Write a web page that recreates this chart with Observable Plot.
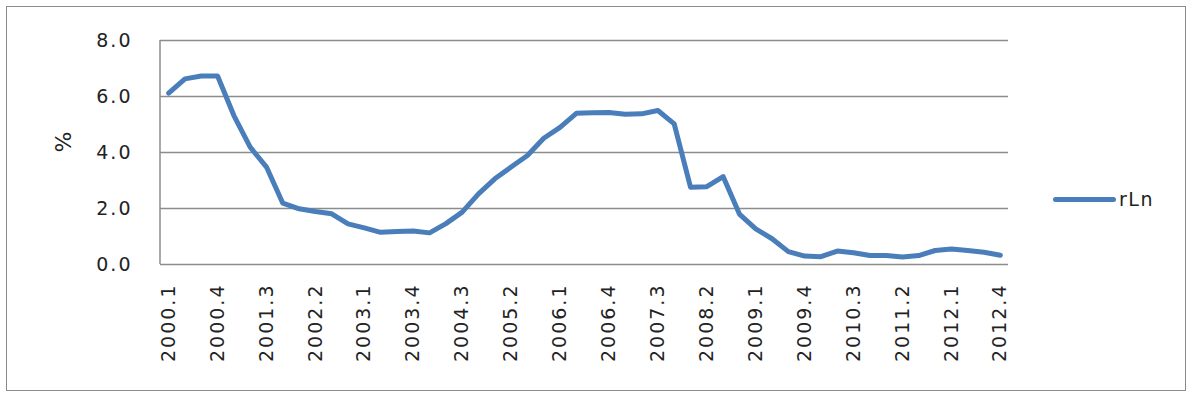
<!DOCTYPE html>
<html><head><meta charset="utf-8">
<script src="https://cdn.jsdelivr.net/npm/d3@7"></script>
<script src="https://cdn.jsdelivr.net/npm/@observablehq/plot@0.6"></script>
<style>
body{margin:0;background:#fff;}
#wrap{position:relative;width:1194px;height:393px;font-family:"DejaVu Sans",sans-serif;}
#border{position:absolute;left:6px;top:6px;width:1178px;height:383px;border:1px solid #8c8c8c;pointer-events:none;}
#legend{position:absolute;left:1053px;top:188px;font-size:19px;letter-spacing:1.5px;color:#222;display:flex;align-items:center;}
#legend .sw{width:63px;height:5px;background:#4a7ebb;border-radius:3px;margin-right:3px;}
svg text{letter-spacing:2px;}
</style></head>
<body><div id="wrap"><div id="chart"></div><div id="border"></div><div id="legend"><span class="sw"></span><span>rLn</span></div></div>
<script>
const years = [2000,2001,2002,2003,2004,2005,2006,2007,2008,2009,2010,2011,2012];
const quarters = [1,2,3,4];
const periods = years.flatMap(y => quarters.map(q => `${y}.${q}`));
const rLn = [
  6.12, 6.63, 6.73, 6.73, 5.32, 4.19, 3.48, 2.19, 1.99, 1.89, 1.81, 1.45, 1.31,
  1.15, 1.18, 1.20, 1.13, 1.46, 1.87, 2.52, 3.06, 3.48, 3.89, 4.51, 4.90, 5.40,
  5.42, 5.43, 5.37, 5.38, 5.50, 5.02, 2.76, 2.78, 3.14, 1.80, 1.27, 0.92, 0.46,
  0.30, 0.28, 0.48, 0.42, 0.32, 0.32, 0.27, 0.32, 0.50, 0.55, 0.50, 0.44, 0.33
];
const yTicks = [0, 2, 4, 6, 8];
const xTickLabels = periods.filter((d, i) => i % 3 === 0);
const data = periods.map((p, i) => ({period: p, value: rLn[i]}));

const chart = Plot.plot({
  width: 1194, height: 393,
  marginLeft: 160, marginRight: 186, marginTop: 40, marginBottom: 129,
  style: {fontFamily: "'DejaVu Sans', sans-serif", fontSize: "19px", color: "#222", background: "transparent"},
  x: {type: "band", domain: periods, padding: 0, round: false},
  y: {domain: [0, 8]},
  marks: [
    Plot.gridY(yTicks, {stroke: "#8c8c8c", strokeOpacity: 1, strokeWidth: 1.5}),
    Plot.axisY(yTicks, {tickSize: 0, tickPadding: 28, tickFormat: d => d.toFixed(1), label: null, fontSize: 19}),
    Plot.axisX(xTickLabels, {tickSize: 0, tickPadding: 19, tickRotate: -90, label: null, fontSize: 19}),
    Plot.text(["%"], {frameAnchor: "left", dx: -97, rotate: -90, fontSize: 22, fill: "#222"}),
    Plot.line(data, {x: "period", y: "value", stroke: "#4a7ebb", strokeWidth: 5, strokeLinejoin: "round", strokeLinecap: "round"})
  ]
});
// left axis line of plot area
d3.select(chart).append("line")
  .attr("x1", 160).attr("x2", 160).attr("y1", 40).attr("y2", 264)
  .attr("stroke", "#8c8c8c").attr("stroke-width", 1.5);
document.getElementById("chart").appendChild(chart);
</script></body></html>
